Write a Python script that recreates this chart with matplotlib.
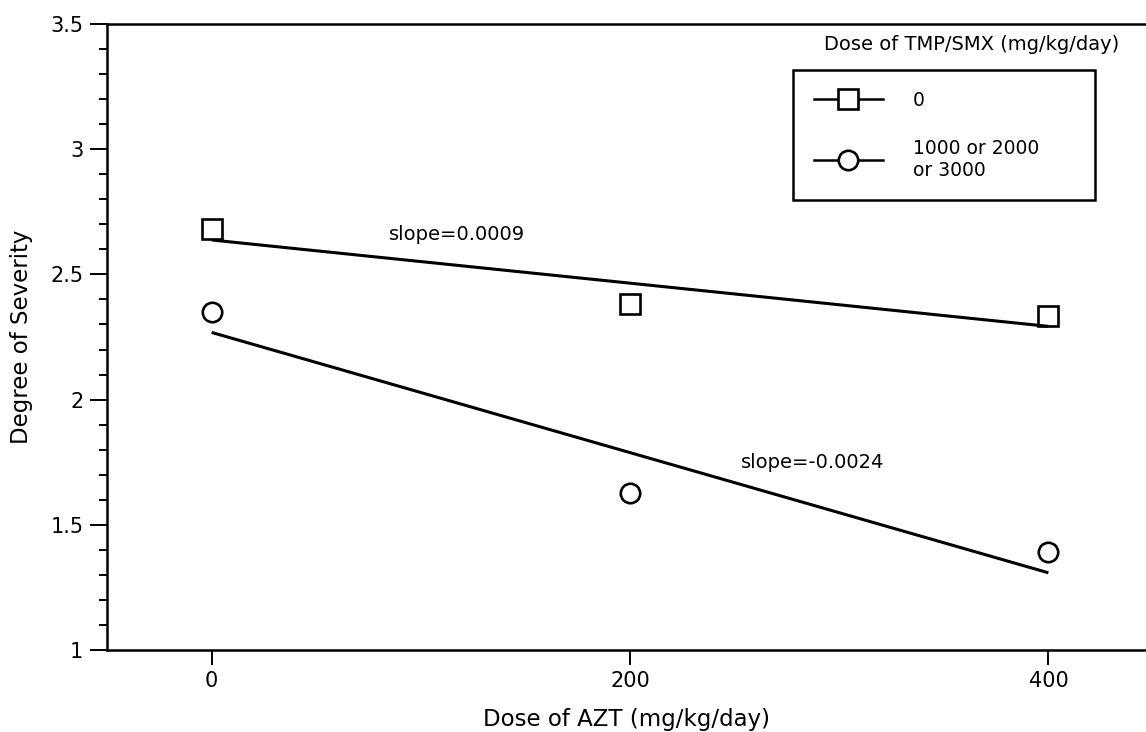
import numpy as np
import matplotlib.pyplot as plt

azt_dose = [0, 200, 400]
severity_tmp0 = [2.68, 2.38, 2.335]
severity_tmp_high = [2.35, 1.625, 1.39]
legend_labels = ['0', '1000 or 2000\nor 3000']
legend_title = 'Dose of TMP/SMX (mg/kg/day)'
slope_labels = ['slope=0.0009', 'slope=-0.0024']


def fit_line(x, y):
  coef = np.polyfit(x, y, 1)
  return np.polyval(coef, x)


def draw():
  fig = plt.figure(figsize=(11.46, 7.32), dpi=100)
  ax = fig.add_axes([107 / 1146, 82 / 732, 1046 / 1146, 626 / 732])

  x = np.array(azt_dose)
  ax.plot(x, severity_tmp0, 's', color='k', mfc='white', ms=14, mew=1.9,
          linestyle='none')
  ax.plot(x, severity_tmp_high, 'o', color='k', mfc='white', ms=14, mew=1.9,
          linestyle='none')
  ax.plot(x, fit_line(x, severity_tmp0), color='k', lw=2.2, solid_capstyle='butt')
  ax.plot(x, fit_line(x, severity_tmp_high), color='k', lw=2.2, solid_capstyle='butt')

  ax.text(85, 2.661, slope_labels[0], fontsize=14, ha='left', va='center')
  ax.text(253, 1.748, slope_labels[1], fontsize=14, ha='left', va='center')

  ax.set_xlim(-50, 450)
  ax.set_ylim(1, 3.5)
  ax.set_xticks([0, 200, 400])
  ax.set_yticks([1, 1.5, 2, 2.5, 3, 3.5])
  ax.set_yticklabels(['1', '1.5', '2', '2.5', '3', '3.5'])
  ax.set_yticks(np.arange(1, 3.5, 0.1), minor=True)
  ax.tick_params(axis='y', which='major', direction='out', length=12, width=1.4,
                 pad=5, labelsize=15)
  ax.tick_params(axis='y', which='minor', direction='out', length=6, width=1.4)
  ax.tick_params(axis='x', which='major', direction='out', length=11, width=1.4,
                 pad=4, labelsize=15)
  ax.spines['right'].set_visible(False)
  for s in ['left', 'bottom', 'top']:
    ax.spines[s].set_linewidth(1.8)

  ax.set_xlabel('Dose of AZT (mg/kg/day)', fontsize=16.5)
  ax.set_ylabel('Degree of Severity', fontsize=16.5)
  ax.xaxis.set_label_coords(0.497, -0.092)
  ax.yaxis.set_label_coords(-0.071, 0.5)

  from matplotlib.lines import Line2D
  hl1 = Line2D([], [], color='k', lw=1.8, marker='s', ms=14, mfc='white', mew=1.9)
  hl2 = Line2D([], [], color='k', lw=1.8, marker='o', ms=14, mfc='white', mew=1.9)
  leg = ax.legend([hl1, hl2], legend_labels, loc='upper left',
                  bbox_to_anchor=(0.656, 0.719, 0.2886, 0.2075), mode='expand',
                  borderaxespad=0, fontsize=13.5, handlelength=3.7,
                  handletextpad=1.6, borderpad=1.1, labelspacing=1.55,
                  fancybox=False, framealpha=1, edgecolor='k')
  leg.get_frame().set_linewidth(1.8)
  ax.text(0.6855, 0.968, legend_title, transform=ax.transAxes, fontsize=14,
          ha='left', va='center')

  fig.savefig('out.png', dpi=100)


if __name__ == '__main__':
  draw()
